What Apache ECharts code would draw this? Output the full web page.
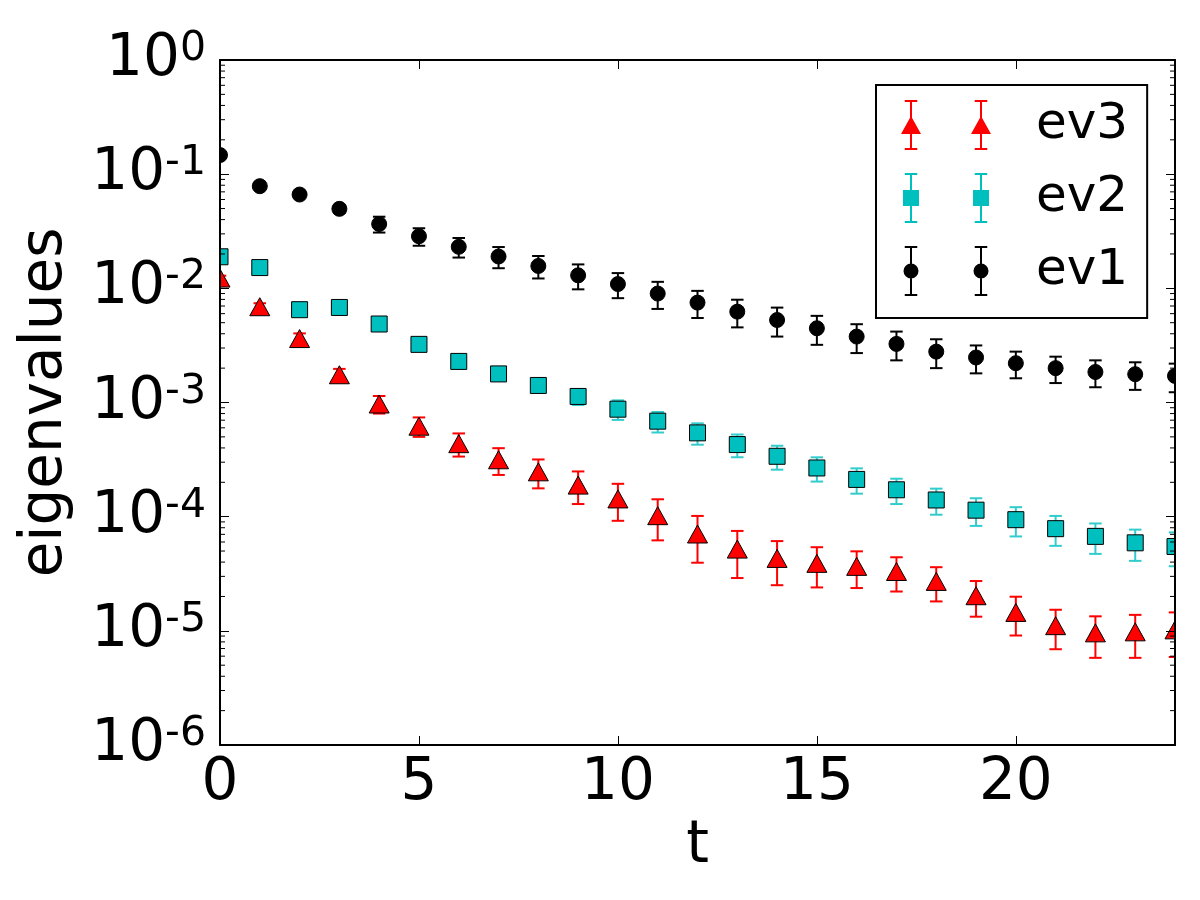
<!DOCTYPE html>
<html>
<head>
<meta charset="utf-8">
<script src="https://cdn.jsdelivr.net/npm/echarts@6/dist/echarts.min.js"></script>
<style>html,body{margin:0;padding:0;background:#fff;}#chart{width:1200px;height:900px;}</style>
</head>
<body>
<div id="chart"></div>
<script>
// ---- data ----
const tValues = [0,1,2,3,4,5,6,7,8,9,10,11,12,13,14,15,16,17,18,19,20,21,22,23,24];
const ev1 = [0.147,0.0785,0.0663,0.0497,0.0366,0.0286,0.0231,0.0190,0.0157,0.0130,0.0109,0.0090,0.0075,0.00625,0.00528,0.00447,0.00378,0.00326,0.00279,0.00248,0.00221,0.00200,0.00185,0.00177,0.00171];
const ev1Err = [0.003,0.003,0.003,0.004,0.0058,0.005,0.0045,0.004,0.0035,0.0032,0.0027,0.0024,0.0020,0.0017,0.0015,0.00127,0.00107,0.00092,0.00079,0.00068,0.00058,0.00052,0.00049,0.00048,0.00048];
const ev2 = [0.0189,0.0152,0.0065,0.0068,0.00487,0.00323,0.00229,0.00178,0.00141,0.00113,0.000874,0.000686,0.000542,0.000428,0.000338,0.000267,0.000212,0.000172,0.00014,0.000114,0.0000941,0.0000785,0.0000672,0.000059,0.0000548];
const ev2Err = [0.001,0.0008,0.0004,0.0004,0.0003,0.00025,0.0002,0.00016,0.00014,0.00018,0.00017,0.00014,0.000115,0.0000965,0.00008,0.000064,0.000053,0.000043,0.000036,0.000031,0.000027,0.000023,0.00002,0.000018,0.000018];
const ev3 = [0.0123,0.0069,0.00363,0.00175,0.00097,0.00062,0.000436,0.000315,0.000247,0.000189,0.000143,0.000102,0.0000705,0.000052,0.0000431,0.000039,0.0000367,0.0000331,0.0000271,0.0000203,0.0000145,0.0000111,0.0000096,0.0000098,0.0000102];
const ev3Err = [0.0006,0.0005,0.0004,0.00022,0.00017,0.00012,0.0001,0.000083,0.00007,0.00006,0.000051,0.00004,0.000031,0.000023,0.000018,0.000015,0.000013,0.000011,0.000009,0.000007,0.0000054,0.0000042,0.0000038,0.000004,0.0000043];
const seriesNames = ['ev1','ev2','ev3'];
const xTickLabels = ['0','5','10','15','20'];
const yMin = 1e-6, yMax = 1;

// ---- styling ----
const FONT = 'DejaVu Sans';
const C_BLACK = '#000000', C_CYAN = '#00bfbf', C_CYAN_ERR = '#33cccc', C_RED = '#ff0000';

// minor tick values on the log axis (2..9 x 10^e)
const minorTickValues = [];
for (let e = -6; e < 0; e++) for (let k = 2; k <= 9; k++) minorTickValues.push([0, k * Math.pow(10, e)]);

function makeRender(shape, fill, errColor) {
  return function (params, api) {
    const x = api.value(0), y = api.value(1), e = api.value(2);
    const p = api.coord([x, y]);
    const hi = api.coord([x, y + e]);
    const lo = (y - e) > 0 ? api.coord([x, y - e]) : [p[0], params.coordSys.y + params.coordSys.height];
    const cap = 6.25;
    const lineStyle = { stroke: errColor, lineWidth: 2 };
    const children = [
      { type: 'line', shape: { x1: p[0], y1: hi[1], x2: p[0], y2: lo[1] }, style: lineStyle },
      { type: 'line', shape: { x1: p[0] - cap, y1: hi[1], x2: p[0] + cap, y2: hi[1] }, style: lineStyle },
      { type: 'line', shape: { x1: p[0] - cap, y1: lo[1], x2: p[0] + cap, y2: lo[1] }, style: lineStyle }
    ];
    const ms = { fill: fill, stroke: '#000', lineWidth: 1 };
    if (shape === 'circle') children.push({ type: 'circle', shape: { cx: p[0], cy: p[1], r: 7.5 }, style: ms });
    else if (shape === 'square') children.push({ type: 'rect', shape: { x: p[0] - 8, y: p[1] - 8, width: 16, height: 16 }, style: ms });
    else children.push({ type: 'polygon', shape: { points: [[p[0], p[1] - 9], [p[0] + 10, p[1] + 9], [p[0] - 10, p[1] + 9]] }, style: ms });
    return { type: 'group', children: children };
  };
}

// legend icons: two error-bar markers, path bbox fixed to 130x50
function barPath(cx) {
  return 'M' + (cx - 1) + ' 0 L' + (cx + 1) + ' 0 L' + (cx + 1) + ' 50 L' + (cx - 1) + ' 50 Z ' +
    'M' + (cx - 6.25) + ' 0 L' + (cx + 6.25) + ' 0 L' + (cx + 6.25) + ' 2 L' + (cx - 6.25) + ' 2 Z ' +
    'M' + (cx - 6.25) + ' 48 L' + (cx + 6.25) + ' 48 L' + (cx + 6.25) + ' 50 L' + (cx - 6.25) + ' 50 Z ';
}
function markerPath(shape, cx) {
  if (shape === 'circle') return 'M' + (cx - 7.5) + ' 25 A7.5 7.5 0 1 1 ' + (cx + 7.5) + ' 25 A7.5 7.5 0 1 1 ' + (cx - 7.5) + ' 25 Z ';
  if (shape === 'square') return 'M' + (cx - 8) + ' 17 L' + (cx + 8) + ' 17 L' + (cx + 8) + ' 33 L' + (cx - 8) + ' 33 Z ';
  return 'M' + cx + ' 16 L' + (cx + 10) + ' 34 L' + (cx - 10) + ' 34 Z ';
}
function legendIcon(shape) {
  return 'path://M0 0 ' + barPath(10) + markerPath(shape, 10) + barPath(80) + markerPath(shape, 80) + 'M130 50';
}

const chart = echarts.init(document.getElementById('chart'), null, { renderer: 'canvas' });

const axisLineStyle = { color: '#000', width: 2 };
const option = {
  backgroundColor: '#ffffff',
  animation: false,
  textStyle: { fontFamily: FONT },
  grid: { left: 220, right: 25, top: 60, bottom: 155, containLabel: false },
  legend: {
    orient: 'vertical', left: 876, top: 85,
    padding: [15, 19, 22, 25], itemGap: 23, itemWidth: 130, itemHeight: 50,
    borderColor: '#000', borderWidth: 2, backgroundColor: '#fff',
    textStyle: { fontSize: 50, color: '#000', fontFamily: FONT },
    selectedMode: false,
    data: [
      { name: 'ev3', icon: legendIcon('triangle'), itemStyle: { color: C_RED, borderWidth: 0 } },
      { name: 'ev2', icon: legendIcon('square'), itemStyle: { color: C_CYAN, borderWidth: 0 } },
      { name: 'ev1', icon: legendIcon('circle'), itemStyle: { color: C_BLACK, borderWidth: 0 } }
    ]
  },
  xAxis: [
    {
      type: 'value', min: 0, max: 24, interval: 5, position: 'bottom', z: 10,
      axisLine: { show: true, onZero: false, lineStyle: axisLineStyle },
      axisTick: { show: true, inside: true, length: 9, lineStyle: { color: '#000', width: 1 } },
      splitLine: { show: false },
      axisLabel: { fontSize: 58, color: '#000', fontFamily: FONT, margin: 10,
        formatter: v => (xTickLabels.indexOf(String(v)) >= 0 ? String(v) : '') },
      name: 't', nameLocation: 'middle', nameGap: 68,
      nameTextStyle: { fontSize: 58, color: '#000', fontFamily: FONT }
    },
    {
      type: 'value', min: 0, max: 24, interval: 5, position: 'top', z: 10,
      axisLine: { show: true, onZero: false, lineStyle: axisLineStyle },
      axisTick: { show: true, inside: true, length: 9, lineStyle: { color: '#000', width: 1 } },
      splitLine: { show: false }, axisLabel: { show: false }
    }
  ],
  yAxis: [
    {
      type: 'log', logBase: 10, min: yMin, max: yMax, interval: 1, position: 'left', z: 10,
      axisLine: { show: true, onZero: false, lineStyle: axisLineStyle },
      axisTick: { show: true, inside: true, length: 9, lineStyle: { color: '#000', width: 1 } },
      splitLine: { show: false }, minorTick: { show: false },
      axisLabel: {
        margin: 14, color: '#000', fontFamily: FONT,
        formatter: v => '{b|10}{s|' + Math.round(Math.log10(v)) + '}',
        rich: {
          b: { fontSize: 58, fontFamily: FONT, color: '#000', lineHeight: 62 },
          s: { fontSize: 41, fontFamily: FONT, color: '#000', verticalAlign: 'top', lineHeight: 44 }
        }
      },
      name: 'eigenvalues', nameLocation: 'middle', nameGap: 145, nameRotate: 90,
      nameTextStyle: { fontSize: 58, color: '#000', fontFamily: FONT }
    },
    {
      type: 'log', logBase: 10, min: yMin, max: yMax, interval: 1, position: 'right', z: 10,
      axisLine: { show: true, onZero: false, lineStyle: axisLineStyle },
      axisTick: { show: true, inside: true, length: 9, lineStyle: { color: '#000', width: 1 } },
      splitLine: { show: false }, axisLabel: { show: false }
    }
  ],
  series: [
    {
      name: 'minorTicks', type: 'custom', silent: true, z: 10, clip: false,
      xAxisIndex: 0, yAxisIndex: 0, encode: { x: 0, y: 1 },
      data: minorTickValues,
      renderItem: function (params, api) {
        const cs = params.coordSys;
        const p = api.coord([0, api.value(1)]);
        const st = { stroke: '#000', lineWidth: 1 };
        return { type: 'group', children: [
          { type: 'line', shape: { x1: cs.x, y1: p[1], x2: cs.x + 5, y2: p[1] }, style: st },
          { type: 'line', shape: { x1: cs.x + cs.width - 5, y1: p[1], x2: cs.x + cs.width, y2: p[1] }, style: st }
        ] };
      }
    },
    {
      name: 'ev1', type: 'custom', clip: true, xAxisIndex: 0, yAxisIndex: 0,
      itemStyle: { color: C_BLACK }, encode: { x: 0, y: 1 },
      data: tValues.map((t, i) => [t, ev1[i], ev1Err[i]]),
      renderItem: makeRender('circle', C_BLACK, C_BLACK)
    },
    {
      name: 'ev2', type: 'custom', clip: true, xAxisIndex: 0, yAxisIndex: 0,
      itemStyle: { color: C_CYAN }, encode: { x: 0, y: 1 },
      data: tValues.map((t, i) => [t, ev2[i], ev2Err[i]]),
      renderItem: makeRender('square', C_CYAN, C_CYAN_ERR)
    },
    {
      name: 'ev3', type: 'custom', clip: true, xAxisIndex: 0, yAxisIndex: 0,
      itemStyle: { color: C_RED }, encode: { x: 0, y: 1 },
      data: tValues.map((t, i) => [t, ev3[i], ev3Err[i]]),
      renderItem: makeRender('triangle', C_RED, C_RED)
    }
  ]
};
chart.setOption(option);
</script>
</body>
</html>
